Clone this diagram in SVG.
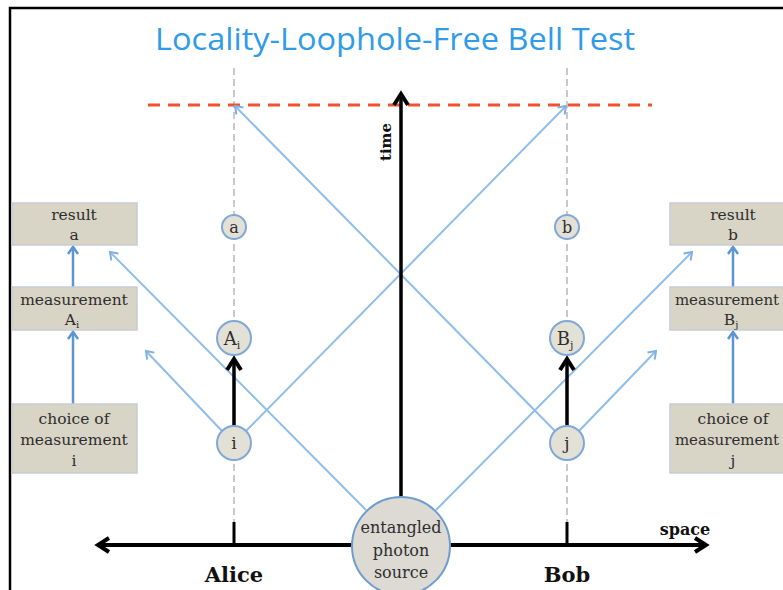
<svg xmlns="http://www.w3.org/2000/svg" width="783" height="590" viewBox="0 0 783 590">
<defs>
<style>
.serif{font-family:"DejaVu Serif","Liberation Serif",serif;fill:#2e2e2e;text-anchor:middle}
.box{fill:#d8d4c6;stroke:#c6cdd6;stroke-width:1.5}
.circ{fill:#e3e0d5;stroke:#7fa8d8;stroke-width:2}
.cone{stroke:#8fbdea;stroke-width:2;fill:none}
.barrow{stroke:#5b95d3;stroke-width:2.5;fill:none}
.vdash{stroke:#b8b8b8;stroke-width:1.5;stroke-dasharray:7,4;fill:none}
.blk{stroke:#000;fill:none}
</style>
<marker id="mb" markerWidth="14" markerHeight="14" refX="10" refY="6" orient="auto" markerUnits="userSpaceOnUse">
<path d="M3,1 L10,6 L3,11" fill="none" stroke="#7fb0e4" stroke-width="2"/>
</marker>
<marker id="mb2" markerWidth="14" markerHeight="14" refX="10" refY="6" orient="auto" markerUnits="userSpaceOnUse">
<path d="M3,1 L10,6 L3,11" fill="none" stroke="#5b95d3" stroke-width="2.5"/>
</marker>
<marker id="mk" markerWidth="20" markerHeight="20" refX="14" refY="9" orient="auto-start-reverse" markerUnits="userSpaceOnUse">
<path d="M3,2 L14,9 L3,16" fill="none" stroke="#000" stroke-width="4" stroke-linejoin="miter"/>
</marker>
</defs>
<rect width="783" height="590" fill="#fff"/>
<path d="M10,590 V8 H783" fill="none" stroke="#000" stroke-width="2.5"/>
<text x="395" y="50" font-family="Open Sans,Liberation Sans,sans-serif" font-size="31" fill="#2f9be9" text-anchor="middle" textLength="480" lengthAdjust="spacingAndGlyphs">Locality-Loophole-Free Bell Test</text>

<g id="connectors">
<line class="vdash" x1="234" y1="68" x2="234" y2="522"/>
<line class="vdash" x1="567" y1="68" x2="567" y2="522"/>
<line x1="148" y1="105" x2="652" y2="105" stroke="#f2522f" stroke-width="3" stroke-dasharray="12,8"/>
<line class="cone" x1="246" y1="431" x2="566" y2="106" marker-end="url(#mb)"/>
<line class="cone" x1="555" y1="431" x2="235" y2="106" marker-end="url(#mb)"/>
<line class="cone" x1="366" y1="510" x2="110" y2="252" marker-end="url(#mb)"/>
<line class="cone" x1="436" y1="510" x2="692" y2="252" marker-end="url(#mb)"/>
<line class="cone" x1="222" y1="431" x2="146" y2="351" marker-end="url(#mb)"/>
<line class="cone" x1="579" y1="431" x2="656" y2="351" marker-end="url(#mb)"/>
<line class="barrow" x1="73" y1="287" x2="73" y2="247" marker-end="url(#mb2)"/>
<line class="barrow" x1="73" y1="404" x2="73" y2="332" marker-end="url(#mb2)"/>
<line class="barrow" x1="733" y1="287" x2="733" y2="247" marker-end="url(#mb2)"/>
<line class="barrow" x1="733" y1="404" x2="733" y2="332" marker-end="url(#mb2)"/>
<line class="blk" x1="401" y1="500" x2="401" y2="94" stroke-width="3.5" marker-end="url(#mk)"/>
<line class="blk" x1="234" y1="426" x2="234" y2="359" stroke-width="3.5" marker-end="url(#mk)"/>
<line class="blk" x1="567" y1="426" x2="567" y2="359" stroke-width="3.5" marker-end="url(#mk)"/>
<line class="blk" x1="98" y1="545" x2="706" y2="545" stroke-width="4" marker-start="url(#mk)" marker-end="url(#mk)"/>
<line class="blk" x1="234" y1="522" x2="234" y2="545" stroke-width="3"/>
<line class="blk" x1="567" y1="522" x2="567" y2="545" stroke-width="3"/>
</g>

<text transform="translate(391,142) rotate(-90)" font-family="DejaVu Serif,serif" font-size="15" font-weight="bold" fill="#111" text-anchor="middle">time</text>
<text x="685" y="535" font-family="DejaVu Serif,serif" font-size="16" font-weight="bold" fill="#111" text-anchor="middle">space</text>
<text x="234" y="582" font-family="DejaVu Serif,serif" font-size="21" font-weight="bold" fill="#111" text-anchor="middle">Alice</text>
<text x="567" y="582" font-family="DejaVu Serif,serif" font-size="21" font-weight="bold" fill="#111" text-anchor="middle">Bob</text>

<g id="source">
<circle cx="401" cy="546" r="49" fill="#dcdad3" stroke="#6f9ccf" stroke-width="2"/>
<text class="serif" x="401" y="533" font-size="16">entangled</text>
<text class="serif" x="401" y="556" font-size="16">photon</text>
<text class="serif" x="401" y="578" font-size="16">source</text>
</g>

<g id="node-a"><circle class="circ" cx="234" cy="227" r="12"/><text class="serif" x="234" y="233" font-size="16">a</text></g>
<g id="node-b"><circle class="circ" cx="567" cy="227" r="12"/><text class="serif" x="567" y="233" font-size="16">b</text></g>
<g id="node-Ai"><circle class="circ" cx="234" cy="338" r="17"/><text class="serif" x="232" y="345" font-size="18">A<tspan font-size="11" dy="4">i</tspan></text></g>
<g id="node-Bj"><circle class="circ" cx="567" cy="338" r="17"/><text class="serif" x="565" y="345" font-size="18">B<tspan font-size="11" dy="4">j</tspan></text></g>
<g id="node-i"><circle class="circ" cx="234" cy="443" r="17"/><text class="serif" x="234" y="449" font-size="17">i</text></g>
<g id="node-j"><circle class="circ" cx="567" cy="443" r="17"/><text class="serif" x="567" y="449" font-size="17">j</text></g>

<g id="box-result-a"><rect class="box" x="12" y="203" width="125" height="42"/><text class="serif" x="74" y="220" font-size="15.5">result</text><text class="serif" x="74" y="240" font-size="15.5">a</text></g>
<g id="box-meas-A"><rect class="box" x="12" y="287" width="125" height="43"/><text class="serif" x="74" y="305" font-size="15.5">measurement</text><text class="serif" x="72" y="325" font-size="15.5">A<tspan font-size="10" dy="3">i</tspan></text></g>
<g id="box-choice-i"><rect class="box" x="12" y="404" width="125" height="69"/><text class="serif" x="74" y="424" font-size="15.5">choice of</text><text class="serif" x="74" y="445" font-size="15.5">measurement</text><text class="serif" x="74" y="466" font-size="15.5">i</text></g>

<g id="box-result-b"><rect class="box" x="670" y="203" width="125" height="42"/><text class="serif" x="733" y="220" font-size="15.5">result</text><text class="serif" x="733" y="240" font-size="15.5">b</text></g>
<g id="box-meas-B"><rect class="box" x="670" y="287" width="125" height="43"/><text class="serif" x="727" y="305" font-size="15">measurement</text><text class="serif" x="731" y="325" font-size="15.5">B<tspan font-size="10" dy="3">j</tspan></text></g>
<g id="box-choice-j"><rect class="box" x="670" y="404" width="125" height="69"/><text class="serif" x="733" y="424" font-size="15.5">choice of</text><text class="serif" x="727" y="445" font-size="15">measurement</text><text class="serif" x="733" y="466" font-size="15.5">j</text></g>
</svg>
